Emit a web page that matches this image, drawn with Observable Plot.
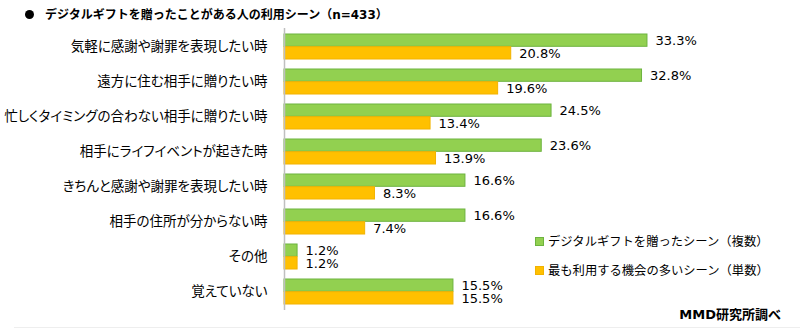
<!DOCTYPE html>
<html><head><meta charset="utf-8">
<script src="https://cdn.jsdelivr.net/npm/d3@7"></script>
<script src="https://cdn.jsdelivr.net/npm/@observablehq/plot@0.6"></script>
<style>
  html,body{margin:0;padding:0;background:#fff;}
  #wrap{position:relative;width:800px;height:329px;overflow:hidden;font-family:"DejaVu Sans","Noto Sans CJK JP",sans-serif;color:#000;}
  #chart svg text{font-feature-settings:"palt","pwid";}
  #title{position:absolute;left:25px;top:5px;font-size:12px;font-weight:bold;white-space:nowrap;}
  #title .dot{display:inline-block;width:9px;height:9px;border-radius:50%;background:#000;margin-right:11px;vertical-align:0px;}
  #legend{position:absolute;left:535px;top:231px;font-size:12.3px;}
  #legend .row{display:flex;align-items:center;height:20px;margin-bottom:9px;white-space:nowrap;}
  #legend .sw{width:7px;height:7px;margin-right:4px;border:1px solid;}
  #source{position:absolute;right:19px;top:304px;font-size:13px;font-weight:bold;}
  #bottomline{position:absolute;left:14px;right:0;top:327px;height:1px;background:#eeeeee;}
</style>
</head><body>
<div id="wrap">
  <div id="chart"></div>
  <div id="title"><span class="dot"></span>デジタルギフトを贈ったことがある人の利用シーン（n=433）</div>
  <div id="legend"></div>
  <div id="source">MMD研究所調べ</div>
  <div id="bottomline"></div>
</div>
<script>
const categories = [
  "気軽に感謝や謝罪を表現したい時",
  "遠方に住む相手に贈りたい時",
  "忙しくタイミングの合わない相手に贈りたい時",
  "相手にライフイベントが起きた時",
  "きちんと感謝や謝罪を表現したい時",
  "相手の住所が分からない時",
  "その他",
  "覚えていない"
];
const seriesNames = ["デジタルギフトを贈ったシーン（複数）", "最も利用する機会の多いシーン（単数）"];
const givenValues = [33.3, 32.8, 24.5, 23.6, 16.6, 16.6, 1.2, 15.5];
const mostValues  = [20.8, 19.6, 13.4, 13.9, 8.3, 7.4, 1.2, 15.5];
const fillColors   = ["#92D050", "#FFC000"];
const strokeColors = ["#6DB33F", "#F2B200"];

const given = categories.map((c, i) => ({category: c, series: seriesNames[0], value: givenValues[i]}));
const most  = categories.map((c, i) => ({category: c, series: seriesNames[1], value: mostValues[i]}));

const half = 12.7;
const fmt = d => d.value.toFixed(1) + "%";

const chart = Plot.plot({
  width: 800,
  height: 329,
  marginLeft: 284,
  marginRight: 80,
  marginTop: 21,
  marginBottom: 12,
  style: {fontSize: "13.5px", fontFamily: "'DejaVu Sans','Noto Sans CJK JP',sans-serif", background: "transparent", color: "#000"},
  x: {domain: [0, 40], axis: null},
  y: {domain: categories, padding: 0.29, tickSize: 0, tickPadding: 17, label: null},
  color: {domain: seriesNames, range: fillColors},
  marks: [
    Plot.barX(given, {x: "value", y: "category", fill: fillColors[0], stroke: strokeColors[0], strokeWidth: 1, insetBottom: half}),
    Plot.barX(most,  {x: "value", y: "category", fill: fillColors[1], stroke: strokeColors[1], strokeWidth: 1, insetTop: half}),
    Plot.ruleX([0], {stroke: "#bfbfbf", strokeWidth: 1.5, insetTop: 7, insetBottom: 7}),
    Plot.text(given, {x: "value", y: "category", text: fmt, dx: 8, dy: -6.4, textAnchor: "start", fontSize: 13}),
    Plot.text(most,  {x: "value", y: "category", text: fmt, dx: 8, dy: 6.4, textAnchor: "start", fontSize: 13})
  ]
});
document.getElementById("chart").appendChild(chart);

const legend = document.getElementById("legend");
seriesNames.forEach((name, i) => {
  const row = document.createElement("div");
  row.className = "row";
  const sw = document.createElement("span");
  sw.className = "sw";
  sw.style.background = fillColors[i];
  sw.style.borderColor = strokeColors[i];
  const t = document.createElement("span");
  t.textContent = name;
  row.appendChild(sw); row.appendChild(t);
  legend.appendChild(row);
});
</script>
</body></html>
